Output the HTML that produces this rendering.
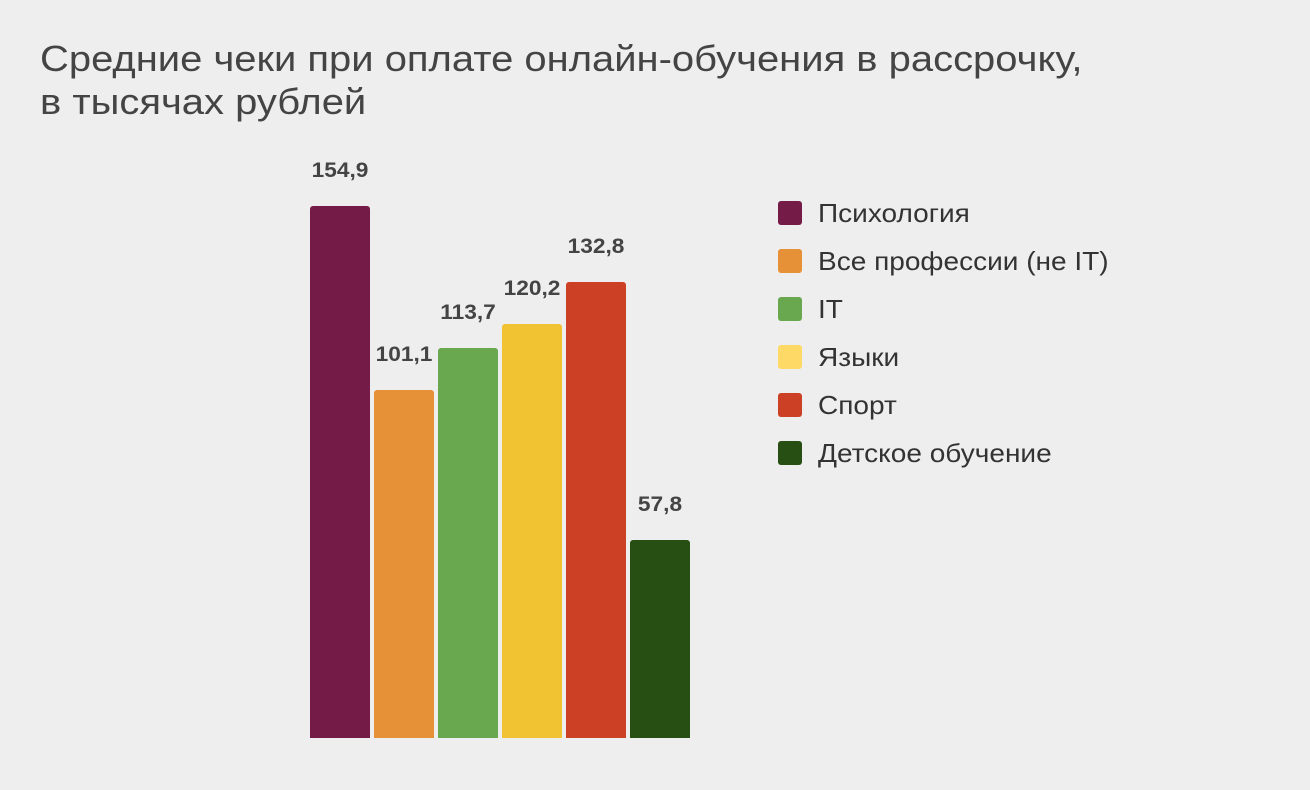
<!DOCTYPE html>
<html><head><meta charset="utf-8"><style>
body{margin:0;width:1310px;height:790px;background:#eeeeee;font-family:"Liberation Sans",Arial,sans-serif;position:relative;overflow:hidden}
.t{position:absolute;left:40px;top:37px;font-size:36px;line-height:43px;color:#444;white-space:nowrap;transform:scaleX(1.11);transform-origin:0 0}
.b{position:absolute;width:60px;border-radius:3px 3px 0 0}
.v{position:absolute;width:80px;text-align:center;font-size:21px;font-weight:bold;color:#444;transform:scaleX(1.08)}
.l{position:absolute;left:778px;font-size:26px;color:#333}
.l i{position:absolute;left:0;top:2px;width:24px;height:24px;border-radius:3px}
.l span{position:absolute;left:40px;top:0px;white-space:nowrap;line-height:28px;transform:scaleX(1.078);transform-origin:0 0}
</style></head><body>
<div class="t">Средние чеки при оплате онлайн-обучения в рассрочку,<br>в тысячах рублей</div>
<div class="b" style="left:310px;top:206px;height:532px;background:#741b47"></div>
<div class="b" style="left:374px;top:390px;height:348px;background:#e69138"></div>
<div class="b" style="left:438px;top:348px;height:390px;background:#6aa84f"></div>
<div class="b" style="left:502px;top:324px;height:414px;background:#f1c232"></div>
<div class="b" style="left:566px;top:282px;height:456px;background:#cc4125"></div>
<div class="b" style="left:630px;top:540px;height:198px;background:#274e13"></div>
<div class="v" style="left:300px;top:159px">154,9</div>
<div class="v" style="left:364px;top:343px">101,1</div>
<div class="v" style="left:428px;top:301px">113,7</div>
<div class="v" style="left:492px;top:277px">120,2</div>
<div class="v" style="left:556px;top:235px">132,8</div>
<div class="v" style="left:620px;top:493px">57,8</div>
<div class="l" style="top:199px"><i style="background:#741b47"></i><span>Психология</span></div>
<div class="l" style="top:247px"><i style="background:#e69138"></i><span>Все профессии (не IT)</span></div>
<div class="l" style="top:295px"><i style="background:#6aa84f"></i><span>IT</span></div>
<div class="l" style="top:343px"><i style="background:#ffd966"></i><span>Языки</span></div>
<div class="l" style="top:391px"><i style="background:#cc4125"></i><span>Спорт</span></div>
<div class="l" style="top:439px"><i style="background:#274e13"></i><span>Детское обучение</span></div>
</body></html>
